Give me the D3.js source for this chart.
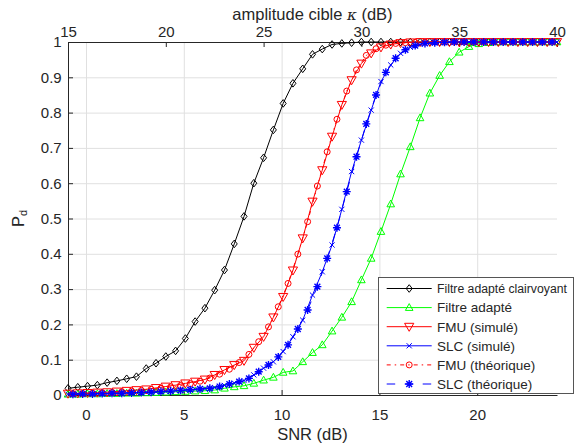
<!DOCTYPE html>
<html><head><meta charset="utf-8">
<script src="https://cdn.jsdelivr.net/npm/d3@7"></script>
<style>
body{margin:0;background:#fff;overflow:hidden}
svg{display:block}
text{font-family:"Liberation Sans",Arial,Helvetica,sans-serif;fill:#262626}
</style>
</head><body>
<svg id="chart" width="574" height="443"></svg>
<script>
// ---------- data ----------
const kappaSim = [15,15.5,16,16.5,17,17.5,18,18.5,19,19.5,20,20.5,21,21.5,22,22.5,23,23.5,24,24.5,25,25.5,26,26.5,27,27.5,28,28.5,29,29.5,30,30.5,31,31.5,32,32.5,33,33.5,34,34.5,35,35.5,36,36.5,37,37.5,38,38.5,39,39.5,40];
const kappaTheo = [15.25,15.75,16.25,16.75,17.25,17.75,18.25,18.75,19.25,19.75,20.25,20.75,21.25,21.75,22.25,22.75,23.25,23.75,24.25,24.75,25.25,25.75,26.25,26.75,27.25,27.75,28.25,28.75,29.25,29.75,30.25,30.75,31.25,31.75,32.25,32.75,33.25,33.75,34.25,34.75,35.25,35.75,36.25,36.75,37.25,37.75,38.25,38.75,39.25,39.75];

const pdClairvoyant = [0.019,0.022,0.025,0.028,0.035,0.040,0.046,0.052,0.075,0.090,
  0.109,0.125,0.160,0.208,0.246,0.297,0.354,0.428,0.506,0.600,
  0.672,0.751,0.826,0.883,0.924,0.965,0.980,0.993,0.996,0.998,
  1,1,1,1,1,1,1,1,1,1,1,1,1,1,1,1,1,1,1,1,1];
const pdAdapte = [0.002,0.002,0.003,0.003,0.004,0.004,0.005,0.005,0.006,0.007,
  0.008,0.009,0.010,0.011,0.012,0.014,0.019,0.023,0.026,0.033,
  0.042,0.050,0.064,0.068,0.094,0.120,0.142,0.181,0.220,0.264,
  0.326,0.387,0.463,0.541,0.626,0.703,0.785,0.855,0.905,0.944,
  0.971,0.987,0.995,0.998,1,1,1,1,1,1,1];
const pdFmuSim = [0.004,0.005,0.006,0.007,0.008,0.010,0.012,0.014,0.016,0.020,
  0.024,0.028,0.033,0.038,0.044,0.057,0.071,0.085,0.097,0.134,
  0.165,0.220,0.278,0.353,0.444,0.548,0.637,0.732,0.822,0.892,
  0.939,0.968,0.985,0.993,0.997,0.999,1,1,1,1,
  1,1,1,1,1,1,1,1,1,1,1];
const pdSlcSim = [0.002,0.003,0.003,0.004,0.004,0.005,0.006,0.007,0.008,0.009,
  0.010,0.012,0.014,0.016,0.018,0.021,0.027,0.034,0.041,0.057,
  0.076,0.094,0.123,0.165,0.212,0.283,0.349,0.425,0.526,0.633,
  0.722,0.807,0.888,0.935,0.968,0.985,0.993,0.997,0.999,1,
  1,1,1,1,1,1,1,1,1,1,1];
const pdFmuTheo = [0.003,0.004,0.005,0.006,0.007,0.009,0.011,0.013,0.016,0.019,
  0.023,0.027,0.032,0.039,0.048,0.059,0.073,0.092,0.115,0.151,
  0.193,0.250,0.316,0.399,0.491,0.592,0.689,0.781,0.861,0.921,
  0.962,0.981,0.991,0.996,0.998,0.999,1,1,1,1,
  1,1,1,1,1,1,1,1,1,1];
const pdSlcTheo = [0.002,0.003,0.003,0.004,0.005,0.005,0.006,0.007,0.008,0.010,
  0.011,0.013,0.015,0.017,0.019,0.024,0.031,0.038,0.047,0.066,
  0.085,0.108,0.142,0.187,0.241,0.307,0.387,0.474,0.576,0.675,
  0.768,0.850,0.914,0.954,0.978,0.990,0.996,0.998,0.999,1,
  1,1,1,1,1,1,1,1,1,1];

const seriesNames = ["Filtre adapté clairvoyant","Filtre adapté","FMU (simulé)","SLC (simulé)","FMU (théorique)","SLC (théorique)"];
const snrTicks = [0,5,10,15,20];
const kappaTicks = [15,20,25,30,35,40];
const pdTicks = [0,0.1,0.2,0.3,0.4,0.5,0.6,0.7,0.8,0.9,1];
const pdTickLabels = ["0","0.1","0.2","0.3","0.4","0.5","0.6","0.7","0.8","0.9","1"];
const snrDomain = [-0.92, 24.08];
const kappaDomain = [15, 40];

// ---------- layout ----------
const L = 68, R = 557, T = 42, B = 395;
const svg = d3.select("#chart");
const kappa = d3.scaleLinear().domain(kappaDomain).range([L, R]);
const snr = d3.scaleLinear().domain(snrDomain).range([L, R]);
const pd = d3.scaleLinear().domain([0, 1]).range([B, T]);

const series = [
  {name: seriesNames[0], x: kappaSim, y: pdClairvoyant, color: "#000000", marker: "diamond", dash: null},
  {name: seriesNames[1], x: kappaSim, y: pdAdapte, color: "#00ff00", marker: "triUp", dash: null},
  {name: seriesNames[2], x: kappaSim, y: pdFmuSim, color: "#ff0000", marker: "triDown", dash: null},
  {name: seriesNames[3], x: kappaSim, y: pdSlcSim, color: "#0000ff", marker: "cross", dash: null},
  {name: seriesNames[4], x: kappaTheo, y: pdFmuTheo, color: "#ff0000", marker: "circle", dash: "4,4,1.5,4"},
  {name: seriesNames[5], x: kappaTheo, y: pdSlcTheo, color: "#0000ff", marker: "star", dash: "8.5,9.5"}
];

const markerPath = {
  diamond: "M0,-3.8L3,0L0,3.8L-3,0Z",
  triUp: "M0,-4L3.8,2.8L-3.8,2.8Z",
  triDown: "M-4.6,-3.4L4.6,-3.4L0,4.6Z",
  circle: "M3,0A3,3 0 1,1 -3,0A3,3 0 1,1 3,0Z",
  cross: "M-2.6,-2.6L2.6,2.6M-2.6,2.6L2.6,-2.6",
  star: "M-4,0L4,0M0,-4L0,4M-2.9,-2.9L2.9,2.9M-2.9,2.9L2.9,-2.9"
};
const markerWidth = {diamond:1, triUp:1, triDown:1, circle:1, cross:1, star:1.4};

// ---------- grid ----------
svg.append("g").attr("transform", `translate(0,${B})`)
  .call(d3.axisBottom(snr).tickValues(snrTicks).tickSize(-(B - T)).tickFormat(""))
  .call(g => g.select(".domain").remove())
  .call(g => g.selectAll("line").attr("stroke", "#e0e0e0"));
svg.append("g").attr("transform", `translate(${L},0)`)
  .call(d3.axisLeft(pd).tickValues(pdTicks.slice(1, -1)).tickSize(-(R - L)).tickFormat(""))
  .call(g => g.select(".domain").remove())
  .call(g => g.selectAll("line").attr("stroke", "#e0e0e0"));

// ---------- axes ----------
const styleAxis = g => {
  g.select(".domain").attr("stroke", "#262626");
  g.selectAll(".tick line").attr("stroke", "#262626");
  g.selectAll(".tick text").attr("fill", "#262626")
    .style("font-family", '"Liberation Sans",Arial,sans-serif').style("font-size", "15px");
};
svg.append("g").attr("transform", `translate(0,${B})`)
  .call(d3.axisBottom(snr).tickValues(snrTicks).tickSize(-5).tickSizeOuter(0).tickPadding(14.6))
  .call(styleAxis);
svg.append("g").attr("transform", `translate(0,${T})`)
  .call(d3.axisTop(kappa).tickValues(kappaTicks).tickSize(-5).tickSizeOuter(0).tickPadding(4.6))
  .call(styleAxis);
svg.append("g").attr("transform", `translate(${L},0)`)
  .call(d3.axisLeft(pd).tickValues(pdTicks).tickSize(-5).tickSizeOuter(0).tickPadding(6.3)
    .tickFormat((d, i) => pdTickLabels[i]))
  .call(styleAxis);

// axis labels
svg.append("text").attr("x", (L + R) / 2).attr("y", 439.5).attr("text-anchor", "middle")
  .style("font-size", "16.5px").text("SNR (dB)");
const tt = svg.append("text").attr("x", (L + R) / 2).attr("y", 20).attr("text-anchor", "middle")
  .style("font-size", "16.5px");
tt.append("tspan").text("amplitude cible ");
tt.append("tspan").style("font-style", "italic").style("font-family", '"DejaVu Serif",serif')
  .style("font-size", "15px").text("κ");
tt.append("tspan").text(" (dB)");
const yl = svg.append("text").attr("transform", `translate(24,${(T + B) / 2}) rotate(-90)`)
  .attr("text-anchor", "middle").style("font-size", "16.5px");
yl.append("tspan").text("P");
yl.append("tspan").attr("dy", 3).style("font-size", "11px").text("d");

// ---------- series ----------
series.forEach(s => {
  const pts = s.x.map((k, i) => [k, s.y[i]]);
  const g = svg.append("g");
  g.append("path").datum(pts)
    .attr("fill", "none").attr("stroke", s.color).attr("stroke-width", 1)
    .attr("stroke-dasharray", s.dash)
    .attr("d", d3.line().x(d => kappa(d[0])).y(d => pd(d[1])));
  g.selectAll("path.m").data(pts).join("path").attr("class", "m")
    .attr("transform", d => `translate(${kappa(d[0])},${pd(d[1])})`)
    .attr("d", markerPath[s.marker])
    .attr("fill", "none").attr("stroke", s.color).attr("stroke-width", markerWidth[s.marker]);
});

// ---------- legend ----------
const lg = svg.append("g");
lg.append("rect").attr("x", 378.5).attr("y", 277.5).attr("width", 195).attr("height", 116)
  .attr("fill", "#ffffff").attr("stroke", "#555555").attr("stroke-width", 1);
const rowY = d3.scaleLinear().domain([0, 5]).range([288.5, 384]);
const maxTextW = 130;
series.forEach((s, i) => {
  const y = rowY(i);
  lg.append("line").attr("x1", 386.7).attr("x2", 431.7).attr("y1", y).attr("y2", y)
    .attr("stroke", s.color).attr("stroke-width", 1).attr("stroke-dasharray", s.dash);
  lg.append("path").attr("transform", `translate(409.2,${y})`).attr("d", markerPath[s.marker])
    .attr("fill", "none").attr("stroke", s.color).attr("stroke-width", markerWidth[s.marker]);
  const t = lg.append("text").attr("x", 437).attr("y", y).attr("dy", "0.36em")
    .style("font-size", "13.5px").text(s.name);
  const w = t.node().getComputedTextLength();
  if (w > maxTextW) t.style("font-size", (13.5 * maxTextW / w).toFixed(2) + "px");
});
</script>
</body></html>
